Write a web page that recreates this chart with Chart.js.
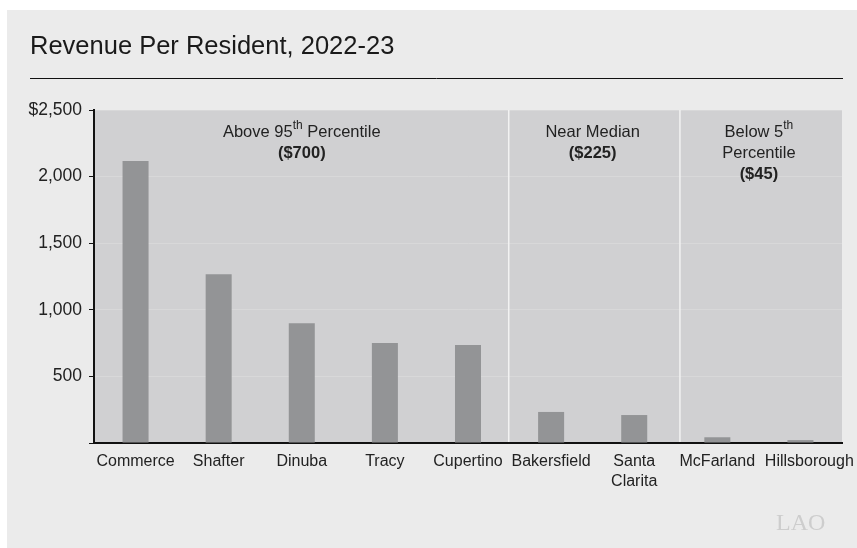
<!DOCTYPE html>
<html lang="en">
<head>
  <meta charset="UTF-8" />
  <title>Revenue Per Resident, 2022-23</title>
  <script src="https://cdn.jsdelivr.net/npm/chart.js"></script>
  <style>
    html, body { margin: 0; padding: 0; background: #fff; }
    #wrap { width: 857px; height: 548px; position: relative; }
  </style>
</head>
<body>
  <div id="wrap"><canvas id="rev-chart" width="857" height="548"></canvas></div>

  <script>
    const cities = ['Commerce', 'Shafter', 'Dinuba', 'Tracy', 'Cupertino', 'Bakersfield', ['Santa', 'Clarita'], 'McFarland', 'Hillsborough'];
    const revenue = [2117, 1266, 899, 750, 735, 233, 210, 43, 22];
    const yTicks = [0, 500, 1000, 1500, 2000, 2500];

    // group labels: center (category index) and lines; 2nd part of a line is a superscript
    const groupCenters = [2, 5.5, 7.5];
    const groupLines = [
      [['Above 95', 'th', ' Percentile'], ['($700)']],
      [['Near Median'], ['($225)']],
      [['Below 5', 'th'], ['Percentile'], ['($45)']]
    ];
    const dividers = [4.49, 6.55];

    const FONT = '"Liberation Sans", Arial, sans-serif';

    const decorPlugin = {
      id: 'decor',
      beforeDraw(chart) {
        const { ctx, chartArea: a } = chart;
        ctx.save();
        // panel
        ctx.fillStyle = '#ebebeb';
        ctx.fillRect(7, 10, 850, 538);
        // plot shading
        ctx.fillStyle = '#d0d0d2';
        ctx.fillRect(a.left, a.top, a.right - a.left, a.bottom - a.top);
        // title
        ctx.fillStyle = '#1a1a1a';
        ctx.font = '25.5px ' + FONT;
        ctx.textBaseline = 'middle';
        ctx.fillText('Revenue Per Resident, 2022-23', 30, 47);
        ctx.strokeStyle = '#111';
        ctx.lineWidth = 1;
        ctx.beginPath();
        ctx.moveTo(30, 78.5);
        ctx.lineTo(843, 78.5);
        ctx.stroke();
        // LAO mark
        ctx.fillStyle = '#cdcdcd';
        ctx.font = '24px "Liberation Serif", serif';
        ctx.textAlign = 'left';
        ctx.fillText('LAO', 776, 524);
        ctx.restore();
      },
      afterDatasetsDraw(chart) {
        const { ctx, chartArea: a, scales: { x } } = chart;
        ctx.save();
        // dividers
        ctx.strokeStyle = '#f2f2f2';
        ctx.lineWidth = 1.5;
        dividers.forEach(d => {
          const px = x.getPixelForValue(d);
          ctx.beginPath();
          ctx.moveTo(px, a.top);
          ctx.lineTo(px, a.bottom - 1);
          ctx.stroke();
        });
        // group annotations
        ctx.fillStyle = '#222';
        ctx.textBaseline = 'middle';
        groupLines.forEach((lines, gi) => {
          const cx = x.getPixelForValue(groupCenters[gi]);
          lines.forEach((parts, li) => {
            const y = a.top + 22 + li * 21;
            const bold = parts[0].startsWith('(');
            const mainFont = (bold ? 'bold ' : '') + '16.5px ' + FONT;
            const supFont = '12px ' + FONT;
            let w = 0;
            parts.forEach((p, pi) => {
              ctx.font = pi === 1 ? supFont : mainFont;
              w += ctx.measureText(p).width;
            });
            let px = cx - w / 2;
            ctx.textAlign = 'left';
            parts.forEach((p, pi) => {
              ctx.font = pi === 1 ? supFont : mainFont;
              ctx.fillText(p, px, pi === 1 ? y - 6 : y);
              px += ctx.measureText(p).width;
            });
          });
        });
        ctx.restore();
      }
    };

    new Chart(document.getElementById('rev-chart'), {
      type: 'bar',
      data: {
        labels: cities,
        datasets: [{
          data: revenue,
          backgroundColor: '#939496',
          borderWidth: 0,
          categoryPercentage: 1,
          barPercentage: 0.313
        }]
      },
      options: {
        responsive: false,
        animation: false,
        layout: { padding: { top: 110, right: 15, left: 0, bottom: 0 } },
        plugins: { legend: { display: false }, tooltip: { enabled: false } },
        scales: {
          x: {
            grid: { display: false, drawTicks: false },
            border: { color: '#111', width: 2 },
            ticks: {
              color: '#222',
              font: { family: FONT, size: 16, lineHeight: 1.25 },
              padding: 9,
              autoSkip: false,
              maxRotation: 0,
              minRotation: 0,
              // last label sits a little right of its bar, as in the original
              callback(v, i) {
                const l = this.getLabelForValue(v);
                return i === cities.length - 1 ? '    ' + l : l;
              }
            },
            afterFit(s) {
              s.height = 105;
              s.paddingLeft = 0;
              s.paddingRight = 0;
            }
          },
          y: {
            min: 0,
            max: 2500,
            afterBuildTicks(s) { s.ticks = yTicks.map(v => ({ value: v })); },
            grid: { color: '#d8d8d9', tickColor: '#111', tickLength: 5, lineWidth: 1 },
            border: { color: '#111', width: 2 },
            ticks: {
              color: '#222',
              font: { family: FONT, size: 17.5 },
              padding: 7,
              callback: v => v === 0 ? '' : (v === 2500 ? '$' : '') + v.toLocaleString('en-US')
            },
            afterFit(s) { s.width = 94; }
          }
        }
      },
      plugins: [decorPlugin]
    });
  </script>
</body>
</html>
